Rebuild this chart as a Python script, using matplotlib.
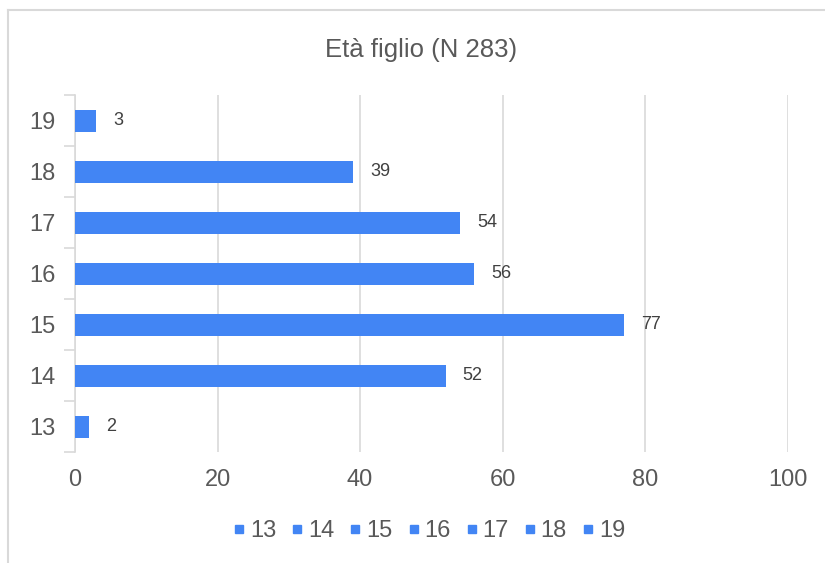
import matplotlib.pyplot as plt
from matplotlib.lines import Line2D

plt.rcParams['font.family'] = ['Liberation Sans', 'DejaVu Sans']

# Dati
eta = ['13', '14', '15', '16', '17', '18', '19']
conteggi = [2, 52, 77, 56, 54, 39, 3]
x_ticks = [0, 20, 40, 60, 80, 100]

blu = '#4285F4'
grigio_testo = '#595959'
grigio_linee = '#D9D9D9'

fig = plt.figure(figsize=(8.25, 5.63), dpi=100)
ax = fig.add_axes([0.0909, 0.197, 0.864, 0.634])

pos = list(range(len(eta)))
ax.barh(pos, conteggi, height=0.43, color=blu, zorder=3)

# Etichette dei valori
for p, v in zip(pos, conteggi):
    ax.text(v + 2.4, p, str(v), va='center', ha='left', fontsize=13, color='#404040')

ax.set_xlim(0, 100)
ax.set_ylim(-0.5, len(eta) - 0.5)
ax.set_xticks(x_ticks)
ax.set_xticklabels([str(t) for t in x_ticks])
ax.set_yticks(pos)
ax.set_yticklabels(eta)
ax.tick_params(axis='x', length=0, pad=12, labelsize=17, labelcolor=grigio_testo)
ax.tick_params(axis='y', length=0, pad=14, labelsize=17, labelcolor=grigio_testo)

# Tacche dell'asse y ai confini delle categorie
ax.set_yticks([p - 0.5 for p in range(len(eta) + 1)], minor=True)
ax.tick_params(axis='y', which='minor', length=8, width=1.2, color=grigio_linee)

ax.grid(axis='x', color=grigio_linee, linewidth=1.2, zorder=0)
for s in ['top', 'right', 'bottom']:
    ax.spines[s].set_visible(False)
ax.spines['left'].set_color(grigio_linee)
ax.spines['left'].set_linewidth(1.2)

fig.text(0.51, 0.912, 'Età figlio (N 283)', ha='center', va='center',
         fontsize=18.5, color=grigio_testo)

# Legenda
handles = [Line2D([], [], marker='s', linestyle='none', color=blu, markersize=6, label=e)
           for e in eta]
fig.legend(handles=handles, loc='center', bbox_to_anchor=(0.518, 0.056), ncol=len(eta),
           frameon=False, fontsize=17, labelcolor=grigio_testo, handletextpad=0.05,
           columnspacing=0.5, handlelength=0.8)

# Bordo del grafico
fig.add_artist(Line2D([8 / 825, 1], [1 - 10 / 563, 1 - 10 / 563], color=grigio_linee, linewidth=1.5))
fig.add_artist(Line2D([8 / 825, 8 / 825], [0, 1 - 10 / 563], color=grigio_linee, linewidth=1.5))

fig.savefig('out.png', dpi=100, facecolor='white')
